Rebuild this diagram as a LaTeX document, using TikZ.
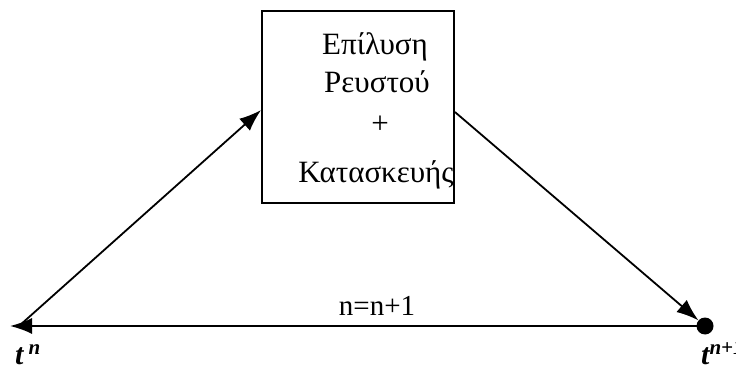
\documentclass[tikz,border=0pt]{standalone}
\usepackage{fontspec}
\setmainfont{Liberation Serif}
\usetikzlibrary{arrows.meta}
\begin{document}
\begin{tikzpicture}[x=1pt,y=1pt,
  conn/.style={line width=1.8pt,-{Latex[length=22pt,width=16pt]}},
  greek/.style={font=\fontsize{31}{36}\selectfont,anchor=base,inner sep=0pt},
  tlabel/.style={font=\fontsize{30}{34}\selectfont,anchor=base west,inner sep=0pt}]
\useasboundingbox (0,0) rectangle (736,367);
\node[draw,line width=1.8pt,minimum width=192pt,minimum height=192pt,inner sep=0pt] (box) at (358,260) {};
\begin{scope}
\clip (box.south west) rectangle (box.north east);
\node[greek] (l1) at (375,312) {Επίλυση};
\node[greek] (l2) at (377,274) {Ρευστού};
\node[greek] (l3) at (380,233) {+};
\node[greek] (l4) at (376,184) {Κατασκευής};
\end{scope}
\node[circle,fill=black,minimum size=17pt,inner sep=0pt] (dot) at (705,41) {};
\coordinate (tn) at (10,41);
\coordinate (src) at (19,41);
\draw[conn] (src) -- ([yshift=-3pt]box.west);
\draw[conn] ([yshift=-5pt]box.east) -- (dot);
\draw[conn] (dot.center) -- (tn);
\node[font=\fontsize{29}{32}\selectfont,anchor=base,inner sep=0pt] (lbl) at (377,52) {n=n+1};
\node[tlabel] (t1) at (15,3) {{\bfseries\itshape t}\,\textsuperscript{\bfseries\itshape n}};
\node[tlabel] (t2) at (701,3) {{\bfseries\itshape t}\textsuperscript{\bfseries\itshape n+1}};
\end{tikzpicture}
\end{document}
